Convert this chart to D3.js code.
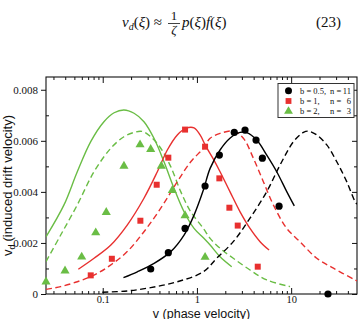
<!DOCTYPE html>
<html><head><meta charset="utf-8">
<script src="https://cdn.jsdelivr.net/npm/d3@7"></script>
<style>body{margin:0;background:#fff}svg{display:block}text{white-space:pre}</style>
</head><body>
<svg id="chart" width="362" height="319"></svg>
<script>
// ---- data ----
const xTickValues = [0.1, 1, 10];
const xTickLabels = ["0.1", "1", "10"];
const yTickValues = [0, 0.002, 0.004, 0.006, 0.008];
const yTickLabels = ["0", "0.002", "0.004", "0.006", "0.008"];

const legendLabelsB = ["b = 0.5,", "b = 1,", "b = 2,"];
const legendLabelsN = ["11", "6", "3"];

const circV  = [0.323,0.497,0.748,1.22,1.73,2.49,3.24,4.24,4.95,7.44,24.6];
const circVd = [0.00098,0.00162,0.00257,0.00423,0.00544,0.00633,0.00642,0.00603,0.00532,0.00344,0];
const sqV  = [0.0746,0.125,0.251,0.374,0.497,0.748,1.22,1.73,2.21,2.71,4.42];
const sqVd = [0.00073,0.00138,0.00287,0.00428,0.00534,0.00644,0.00577,0.00453,0.00338,0.00268,0.00107];
const triV  = [0.025,0.0398,0.0598,0.0843,0.109,0.168,0.249,0.323,0.419,0.548,0.748,1.22];
const triVd = [0.00048,0.00091,0.00145,0.0024,0.0032,0.00501,0.00585,0.00567,0.00501,0.00406,0.00307,0.00144];

const greenSolidV  = [0.025,0.0388,0.0537,0.0746,0.103,0.132,0.168,0.215,0.274,0.350,0.447,0.571,0.730,0.932,1.17,1.38,1.76,2.34];
const greenSolidVd = [0.00224,0.00349,0.00479,0.00597,0.00675,0.0071,0.00721,0.00708,0.00675,0.0061,0.00518,0.00414,0.00322,0.00257,0.0022,0.00192,0.00146,0.00107];
const greenDashV  = [0.025,0.0358,0.0537,0.0809,0.122,0.168,0.215,0.261,0.323,0.413,0.527,0.673,0.860,1.17,1.38,1.76,2.43,3.66,5.51,9.73];
const greenDashVd = [0.00127,0.00231,0.00349,0.00479,0.00571,0.00616,0.00633,0.00637,0.00616,0.00571,0.00499,0.00401,0.00322,0.00257,0.00218,0.00179,0.0014,0.00094,0.00055,0.00029];
const redSolidV  = [0.0551,0.0809,0.122,0.182,0.274,0.380,0.485,0.619,0.760,0.932,1.08,1.25,1.49,1.76,2.24,2.87,3.66,4.68,5.83];
const redSolidVd = [0.00097,0.0014,0.00192,0.0027,0.00375,0.00479,0.00564,0.00623,0.00649,0.00651,0.00623,0.00577,0.00529,0.00479,0.00401,0.00322,0.00257,0.00205,0.00172];
const redDashV  = [0.025,0.0358,0.0537,0.0809,0.122,0.182,0.274,0.413,0.619,0.860,1.17,1.38,1.76,2.43,3.11,3.97,5.07,6.47,8.98,12.4,18.7,28.1,47.7,50];
const redDashVd = [0.00018,0.00029,0.00048,0.00074,0.00114,0.00166,0.00244,0.00336,0.0044,0.00518,0.00571,0.0061,0.00629,0.00638,0.0061,0.00532,0.0044,0.00349,0.00257,0.00205,0.0014,0.00101,0.00055,0.00051];
const blackSolidV  = [0.166,0.233,0.351,0.527,0.730,0.932,1.17,1.38,1.76,2.24,2.87,3.38,4.31,5.51,7.03,8.98,10.8];
const blackSolidVd = [0.00064,0.00087,0.0012,0.00166,0.00231,0.00309,0.00407,0.00492,0.00564,0.0061,0.00633,0.00632,0.00603,0.00544,0.00479,0.00401,0.00345];
const blackDashV  = [0.099,0.182,0.323,0.619,1.17,1.62,2.43,3.66,5.51,7.62,10.6,13.5,15.2,18.7,23.9,30.5,38.9,47.7,50];
const blackDashVd = [0.00007,0.00012,0.00025,0.00048,0.00087,0.0014,0.00205,0.00297,0.00401,0.00505,0.00597,0.00633,0.00638,0.00623,0.00584,0.00518,0.0044,0.00362,0.00352];

// ---- layout ----
const RED = "#e8302f", GREEN = "#6abd45", BLACK = "#000";
const L = 46, R = 357, T = 77, B = 294;
const svg = d3.select("#chart");
const x = d3.scaleLog().domain([0.025, 50]).range([L, R]);
const y = d3.scaleLinear().domain([0, 0.0085]).range([B, T]);
const serif = "'Liberation Serif','DejaVu Serif',serif";
const sans = "'Liberation Sans',Arial,sans-serif";

// equation header
const eq = svg.append("g").attr("font-family", serif).attr("font-size", 15).attr("fill", "#111");
const t1 = eq.append("text").attr("x", 122).attr("y", 27);
t1.append("tspan").attr("font-style", "italic").text("v");
t1.append("tspan").attr("font-style", "italic").attr("font-size", 10).attr("dy", 3).text("d");
t1.append("tspan").attr("dy", -3).text("(");
t1.append("tspan").attr("font-style", "italic").text("ξ");
t1.append("tspan").text(") ≈");
eq.append("text").attr("x", 174).attr("y", 19.5).attr("text-anchor", "middle").attr("font-size", 13).text("1");
eq.append("line").attr("x1", 168).attr("x2", 180).attr("y1", 23.5).attr("y2", 23.5).attr("stroke", "#111").attr("stroke-width", 0.8);
eq.append("text").attr("x", 174).attr("y", 34).attr("text-anchor", "middle").attr("font-style", "italic").attr("font-size", 13).text("ζ");
const t2 = eq.append("text").attr("x", 182).attr("y", 27);
t2.append("tspan").attr("font-style", "italic").text("p");
t2.append("tspan").text("(");
t2.append("tspan").attr("font-style", "italic").text("ξ");
t2.append("tspan").text(")");
t2.append("tspan").attr("font-style", "italic").text("f");
t2.append("tspan").text("(");
t2.append("tspan").attr("font-style", "italic").text("ξ");
t2.append("tspan").text(")");
eq.append("text").attr("x", 341).attr("y", 27).attr("text-anchor", "end").text("(23)");

// clip
svg.append("clipPath").attr("id", "clip").append("rect")
  .attr("x", L).attr("y", T).attr("width", R - L).attr("height", B - T);

// axes
const minorX = [];
[0.01, 0.1, 1, 10].forEach(d => { for (let k = 2; k <= 9; k++) { const v = d * k; if (v > 0.025 && v < 50) minorX.push(v); } });
const minorY = [0.001, 0.003, 0.005, 0.007];

// bottom (inward ticks)
svg.append("g").attr("transform", `translate(0,${B})`)
  .call(d3.axisTop(x).tickValues(xTickValues).tickSize(6).tickFormat(""));
svg.append("g").attr("transform", `translate(0,${B})`)
  .call(d3.axisTop(x).tickValues(minorX).tickSize(3).tickFormat(""));
const xLab = svg.append("g").attr("transform", `translate(0,${B})`)
  .call(d3.axisBottom(x).tickValues(xTickValues).tickSize(0).tickPadding(2).tickFormat((d, i) => xTickLabels[i]));
// top (inward ticks)
svg.append("g").attr("transform", `translate(0,${T})`)
  .call(d3.axisBottom(x).tickValues(xTickValues).tickSize(6).tickFormat(""));
svg.append("g").attr("transform", `translate(0,${T})`)
  .call(d3.axisBottom(x).tickValues(minorX).tickSize(3).tickFormat(""));
// left
svg.append("g").attr("transform", `translate(${L},0)`)
  .call(d3.axisLeft(y).tickValues(yTickValues).tickSize(5).tickPadding(3).tickFormat((d, i) => yTickLabels[i]));
svg.append("g").attr("transform", `translate(${L},0)`)
  .call(d3.axisRight(y).tickValues(minorY).tickSize(3).tickFormat(""));
// right (inward)
svg.append("g").attr("transform", `translate(${R},0)`)
  .call(d3.axisLeft(y).tickValues(yTickValues).tickSize(5).tickFormat(""));
svg.append("g").attr("transform", `translate(${R},0)`)
  .call(d3.axisLeft(y).tickValues(minorY).tickSize(3).tickFormat(""));

svg.selectAll(".domain").remove();
svg.selectAll(".tick line").attr("stroke", "#111").attr("stroke-width", 1);
svg.selectAll(".tick text").attr("font-family", serif).attr("font-size", 11).attr("fill", "#111");
xLab.selectAll(".tick text").attr("font-size", 10.5);

// frame
svg.append("rect").attr("x", L).attr("y", T).attr("width", R - L).attr("height", B - T)
  .attr("fill", "none").attr("stroke", "#111").attr("stroke-width", 1.1);

// curves
const line = d3.line().x(d => x(d[0])).y(d => y(d[1])).curve(d3.curveCatmullRom.alpha(0.5));
const zip = (a, b) => a.map((v, i) => [v, b[i]]);
const curves = [
  [greenSolidV, greenSolidVd, GREEN, null],
  [greenDashV, greenDashVd, GREEN, "6,3.5"],
  [redSolidV, redSolidVd, RED, null],
  [redDashV, redDashVd, RED, "6,3.5"],
  [blackSolidV, blackSolidVd, BLACK, null],
  [blackDashV, blackDashVd, BLACK, "6,3.5"]
];
const cg = svg.append("g").attr("clip-path", "url(#clip)");
curves.forEach(([v, vd, col, dash]) => {
  cg.append("path").datum(zip(v, vd)).attr("d", line).attr("fill", "none")
    .attr("stroke", col).attr("stroke-width", 1.4).attr("stroke-dasharray", dash);
});

// markers
const mg = svg.append("g");
const sym = (type, size) => d3.symbol().type(type).size(size)();
zip(triV, triVd).forEach(d => mg.append("path").attr("d", sym(d3.symbolTriangle, 36))
  .attr("transform", `translate(${x(d[0])},${y(d[1])})`).attr("fill", GREEN));
zip(sqV, sqVd).forEach(d => mg.append("path").attr("d", sym(d3.symbolSquare, 36))
  .attr("transform", `translate(${x(d[0])},${y(d[1])})`).attr("fill", RED));
zip(circV, circVd).forEach(d => mg.append("circle").attr("cx", x(d[0])).attr("cy", y(d[1])).attr("r", 3.6).attr("fill", BLACK));

// legend
const lg = svg.append("g");
lg.append("rect").attr("x", 278).attr("y", 83.5).attr("width", 76).attr("height", 34)
  .attr("fill", "#fff").attr("stroke", "#333").attr("stroke-width", 1);
const legRowsY = [90.7, 101, 111.3];
const legSyms = [["c", BLACK], ["s", RED], ["t", GREEN]];
legSyms.forEach(([s, col], i) => {
  const cy = legRowsY[i];
  if (s === "c") lg.append("circle").attr("cx", 288.5).attr("cy", cy).attr("r", 3.5).attr("fill", col);
  else lg.append("path").attr("d", sym(s === "s" ? d3.symbolSquare : d3.symbolTriangle, 34))
    .attr("transform", `translate(288.5,${cy})`).attr("fill", col);
  lg.append("text").attr("x", 300).attr("y", cy + 3).attr("font-family", serif).attr("font-size", 8.5)
    .attr("fill", "#111").text(legendLabelsB[i]);
  lg.append("text").attr("x", 330).attr("y", cy + 3).attr("font-family", serif).attr("font-size", 8.5)
    .attr("fill", "#111").text("n =");
  lg.append("text").attr("x", 351).attr("y", cy + 3).attr("text-anchor", "end").attr("font-family", serif).attr("font-size", 8.5)
    .attr("fill", "#111").text(legendLabelsN[i]);
});

// axis titles
svg.append("text").attr("x", (L + R) / 2).attr("y", 317.5).attr("text-anchor", "middle")
  .attr("font-family", sans).attr("font-size", 12.5).attr("fill", "#111").text("v (phase velocity)");
const yl = svg.append("text").attr("transform", `translate(12,${(T + B) / 2}) rotate(-90)`)
  .attr("text-anchor", "middle").attr("font-family", sans).attr("font-size", 13).attr("fill", "#111");
yl.append("tspan").text("v");
yl.append("tspan").attr("font-size", 9).attr("dy", 3).text("d");
yl.append("tspan").attr("dy", -3).attr("dx", 3).text("(induced drift velocity)");
</script>
</body></html>
